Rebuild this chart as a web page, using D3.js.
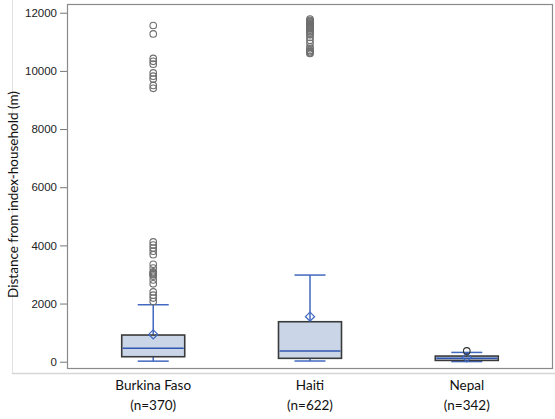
<!DOCTYPE html>
<html>
<head>
<meta charset="utf-8">
<script src="https://cdn.jsdelivr.net/npm/d3@7"></script>
<style>
  html, body { margin: 0; padding: 0; background: #fff; }
  svg { display: block; font-family: Lato, "Open Sans", sans-serif; }
</style>
</head>
<body>
<svg id="chart" width="555" height="419"></svg>
<script>
// Country groups and their sample sizes
const categories = ["Burkina Faso", "Haiti", "Nepal"];
const sampleSizes = [370, 622, 342];

// Box statistics (metres): lower whisker, Q1, median, Q3, upper whisker, mean
const whiskerLow = [20, 25, 5];
const q1 = [172, 117, 45];
const median = [460, 368, 120];
const q3 = [918, 1375, 195];
const whiskerHigh = [1960, 2980, 320];
const means = [940, 1550, 150];

// Outlying distances per group
const outliersBurkina = [11560, 11270, 10430, 10330, 10230, 9930, 9820, 9720, 9500, 9400,
  4120, 4010, 3910, 3800, 3680, 3350, 3220, 3090, 3060, 3020, 2990, 2940, 2810, 2680,
  2400, 2290, 2190, 2070];
const outliersHaiti = [11780, 11740, 11710, 11680, 11650, 11620, 11590, 11560, 11530, 11500,
  11470, 11440, 11400, 11340, 11290, 11240, 11150, 11050, 10950, 10820, 10760, 10700,
  10660, 10620, 10600];
const outliersNepal = [370];
const outliers = [outliersBurkina, outliersHaiti, outliersNepal];

const yTicks = [0, 2000, 4000, 6000, 8000, 10000, 12000];

const svg = d3.select("#chart");
const plot = { left: 67, right: 553, top: 4, bottom: 369 };

const x = d3.scalePoint().domain(categories).range([plot.left, plot.right]).padding(0.55);
const y = d3.scaleLinear().domain([-250, 12300]).range([plot.bottom, plot.top]);

// faint outer guide lines
svg.append("line").attr("x1", 12.5).attr("x2", 12.5).attr("y1", 0).attr("y2", 373.5)
  .attr("stroke", "#e2e2e2").attr("stroke-width", 1);
svg.append("line").attr("x1", 12).attr("x2", 555).attr("y1", 373.5).attr("y2", 373.5)
  .attr("stroke", "#d6d6d6").attr("stroke-width", 1.5);

// plot frame
svg.append("rect")
  .attr("x", plot.left + 0.5).attr("y", plot.top + 0.5)
  .attr("width", plot.right - plot.left - 1).attr("height", plot.bottom - plot.top - 1)
  .attr("fill", "none").attr("stroke", "#8a8a8a").attr("stroke-width", 1.2);

// y axis
const yAxis = d3.axisLeft(y).tickValues(yTicks).tickSize(7).tickPadding(3).tickFormat(d3.format("d"));
const gy = svg.append("g").attr("transform", `translate(${plot.left},0)`).call(yAxis);
gy.select(".domain").remove();
gy.selectAll(".tick line").attr("stroke", "#777");
gy.selectAll(".tick text").attr("fill", "#222").style("font-size", "11.5px");

svg.append("text")
  .attr("transform", `translate(18,${(plot.top + plot.bottom) / 2 + 8}) rotate(-90)`)
  .attr("text-anchor", "middle")
  .attr("fill", "#111")
  .style("font-size", "13.5px")
  .text("Distance from index-household (m)");

// x labels
categories.forEach((c, i) => {
  const g = svg.append("g").attr("transform", `translate(${x(c)},0)`);
  g.append("text").attr("y", 390).attr("text-anchor", "middle").attr("fill", "#111")
    .style("font-size", "13.5px").text(c);
  g.append("text").attr("y", 410).attr("text-anchor", "middle").attr("fill", "#111")
    .style("font-size", "13.5px").text(`(n=${sampleSizes[i]})`);
});

const boxW = 63, capW = 31;
const blue = "#4068c0";

categories.forEach((c, i) => {
  const cx = x(c);
  const g = svg.append("g");

  // whisker stems
  g.append("line").attr("x1", cx).attr("x2", cx).attr("y1", y(q3[i])).attr("y2", y(whiskerHigh[i]))
    .attr("stroke", blue).attr("stroke-width", 1.5);
  g.append("line").attr("x1", cx).attr("x2", cx).attr("y1", y(q1[i])).attr("y2", y(whiskerLow[i]))
    .attr("stroke", blue).attr("stroke-width", 1.5);
  // caps
  [whiskerHigh[i], whiskerLow[i]].forEach(v => {
    g.append("line").attr("x1", cx - capW / 2).attr("x2", cx + capW / 2)
      .attr("y1", y(v)).attr("y2", y(v)).attr("stroke", blue).attr("stroke-width", 1.5);
  });

  // box
  g.append("rect").attr("x", cx - boxW / 2).attr("width", boxW)
    .attr("y", y(q3[i])).attr("height", y(q1[i]) - y(q3[i]))
    .attr("fill", "#cad6e8").attr("stroke", "#3a3a3a").attr("stroke-width", 1.6);
  // median
  g.append("line").attr("x1", cx - boxW / 2 + 1).attr("x2", cx + boxW / 2 - 1)
    .attr("y1", y(median[i])).attr("y2", y(median[i]))
    .attr("stroke", "#2f56b0").attr("stroke-width", 1.5);

  // mean diamond
  const my = y(means[i]), d = 4.5;
  g.append("path")
    .attr("d", `M${cx},${my - d}L${cx + d},${my}L${cx},${my + d}L${cx - d},${my}Z`)
    .attr("fill", "none").attr("stroke", blue).attr("stroke-width", 1.3);

  // outliers
  g.selectAll("circle.out").data(outliers[i]).join("circle")
    .attr("class", "out")
    .attr("cx", cx).attr("cy", v => y(v)).attr("r", 3.3)
    .attr("fill", "none").attr("stroke", i === 2 ? "#333" : "#6f6f6f").attr("stroke-width", 1.1);
});
</script>
</body>
</html>
